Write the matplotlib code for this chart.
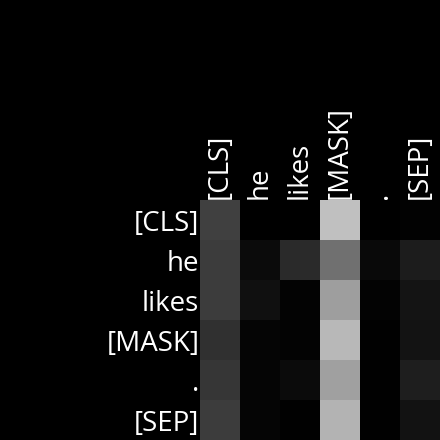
import matplotlib
matplotlib.use("Agg")
import matplotlib.pyplot as plt
import numpy as np

tokens = ["[CLS]", "he", "likes", "[MASK]", ".", "[SEP]"]
row_cls = [0.251, 0.000, 0.000, 0.753, 0.000, 0.008]
row_he = [0.235, 0.043, 0.165, 0.439, 0.039, 0.110]
row_likes = [0.235, 0.063, 0.012, 0.620, 0.012, 0.082]
row_mask = [0.188, 0.020, 0.012, 0.722, 0.004, 0.078]
row_dot = [0.212, 0.020, 0.043, 0.627, 0.004, 0.118]
row_sep = [0.239, 0.020, 0.004, 0.706, 0.004, 0.071]

attn = np.array([row_cls, row_he, row_likes, row_mask, row_dot, row_sep])

plt.rcParams['font.family'] = ['Open Sans', 'DejaVu Sans']

fig = plt.figure(figsize=(4.4, 4.4), dpi=100, facecolor='black')
ax = fig.add_axes([200/440, 0, 240/440, 240/440])
ax.set_facecolor('black')
ax.imshow(attn, cmap='gray', vmin=0, vmax=1, aspect='auto', interpolation='nearest')
ax.set_xticks(range(len(tokens)))
ax.set_yticks(range(len(tokens)))
ax.set_xticklabels(tokens, rotation=90, color='white', fontsize=20)
ax.set_yticklabels(tokens, color='white', fontsize=20)
ax.xaxis.tick_top()
ax.tick_params(length=0, pad=0.5)
for s in ax.spines.values():
    s.set_visible(False)
fig.savefig('out.png', dpi=100, facecolor='black')
